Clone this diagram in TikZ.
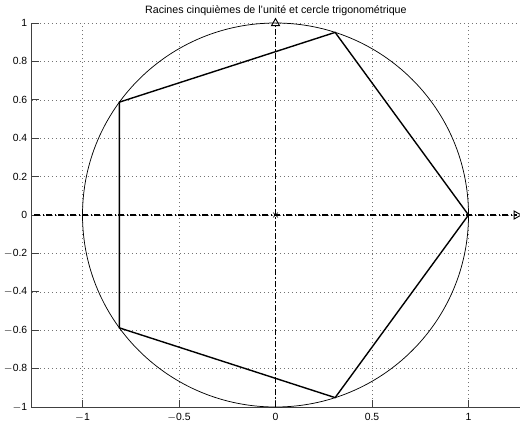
\documentclass[tikz,border=0pt]{standalone}
\usepackage{fontspec}
\setmainfont{Liberation Sans}
\begin{document}
\begin{tikzpicture}[x=144.75pt,y=144pt,
  gridline/.style={line width=0.45pt,black!55,dash pattern=on 0.6pt off 2.4pt},
  axisline/.style={line width=0.7pt,black!75},
  tickmark/.style={line width=0.6pt,black!75},
  ticklbl/.style={font=\fontsize{7.8}{9}\selectfont,inner sep=0pt},
  dashdot/.style={line width=0.9pt,black,dash pattern=on 4.5pt off 1.8pt on 0.9pt off 1.8pt},
  polyline/.style={line width=1.05pt,black,line join=miter},
  circleline/.style={line width=0.55pt,black},
  markertri/.style={line width=0.7pt,black}]
\useasboundingbox (-1.4275,-1.0938) rectangle (1.2668,1.1198);
% grid
\foreach \yy in {-1,-0.8,...,1.01}{
  \draw[gridline] (-1.262,\yy) -- (1.266,\yy);
}
\foreach \xx in {-1,-0.5,0,0.5,1}{
  \draw[gridline] (\xx,-1) -- (\xx,1);
}
% axes
\coordinate (ax0) at (-1.262,-1);
\coordinate (axTop) at (-1.262,1);
\coordinate (axRight) at (1.27,-1);
\draw[axisline] (axTop) -- (ax0) -- (axRight);
\foreach \yy/\lab in {-1/$-$1,-0.8/$-$0.8,-0.6/$-$0.6,-0.4/$-$0.4,-0.2/$-$0.2,0/0,0.2/0.2,0.4/0.4,0.6/0.6,0.8/0.8,1/1}{
  \draw[tickmark] (-1.262,\yy) -- ++(5.5pt,0);
  \node[ticklbl,anchor=east] at (-1.285,\yy) {\lab};
}
\foreach \xx/\lab in {-1/$-$1,-0.5/$-$0.5,0/0,0.5/0.5,1/1}{
  \draw[tickmark] (\xx,-1) -- ++(0,5.5pt);
  \node[ticklbl,anchor=north] at (\xx,-1.032) {\lab};
}
% circle
\coordinate (O) at (0,0);
\draw[circleline] (O) circle[x radius=1,y radius=1];
% pentagon
\coordinate (P0) at (1,0);
\coordinate (P1) at (0.3090,0.9511);
\coordinate (P2) at (-0.8090,0.5878);
\coordinate (P3) at (-0.8090,-0.5878);
\coordinate (P4) at (0.3090,-0.9511);
\draw[polyline] (P0) -- (P1) -- (P2) -- (P3) -- (P4) -- cycle;
% dash-dot axes
\coordinate (Hl) at (-1.25,0);
\coordinate (Hr) at (1.25,0);
\coordinate (Vb) at (0,-1);
\coordinate (Vt) at (0,1);
\draw[dashdot] (Hl) -- (Hr);
\draw[dashdot] (Vb) -- (Vt);
% markers
\draw[markertri] ([shift={(0,3.3pt)}]Vt) -- ([shift={(-3pt,-2pt)}]Vt) -- ([shift={(3pt,-2pt)}]Vt) -- cycle;
\draw[markertri] ([shift={(3.3pt,0)}]Hr) -- ([shift={(-2pt,3pt)}]Hr) -- ([shift={(-2pt,-3pt)}]Hr) -- cycle;
\draw[line width=0.5pt] ([shift={(-1.8pt,-1.8pt)}]O) -- ([shift={(1.8pt,1.8pt)}]O)
  ([shift={(-1.8pt,1.8pt)}]O) -- ([shift={(1.8pt,-1.8pt)}]O);
% title
\node[font=\fontsize{8}{9}\selectfont,inner sep=0pt] (title) at (0.002,1.065) {Racines cinquièmes de l'unité et cercle trigonométrique};
\end{tikzpicture}
\end{document}
